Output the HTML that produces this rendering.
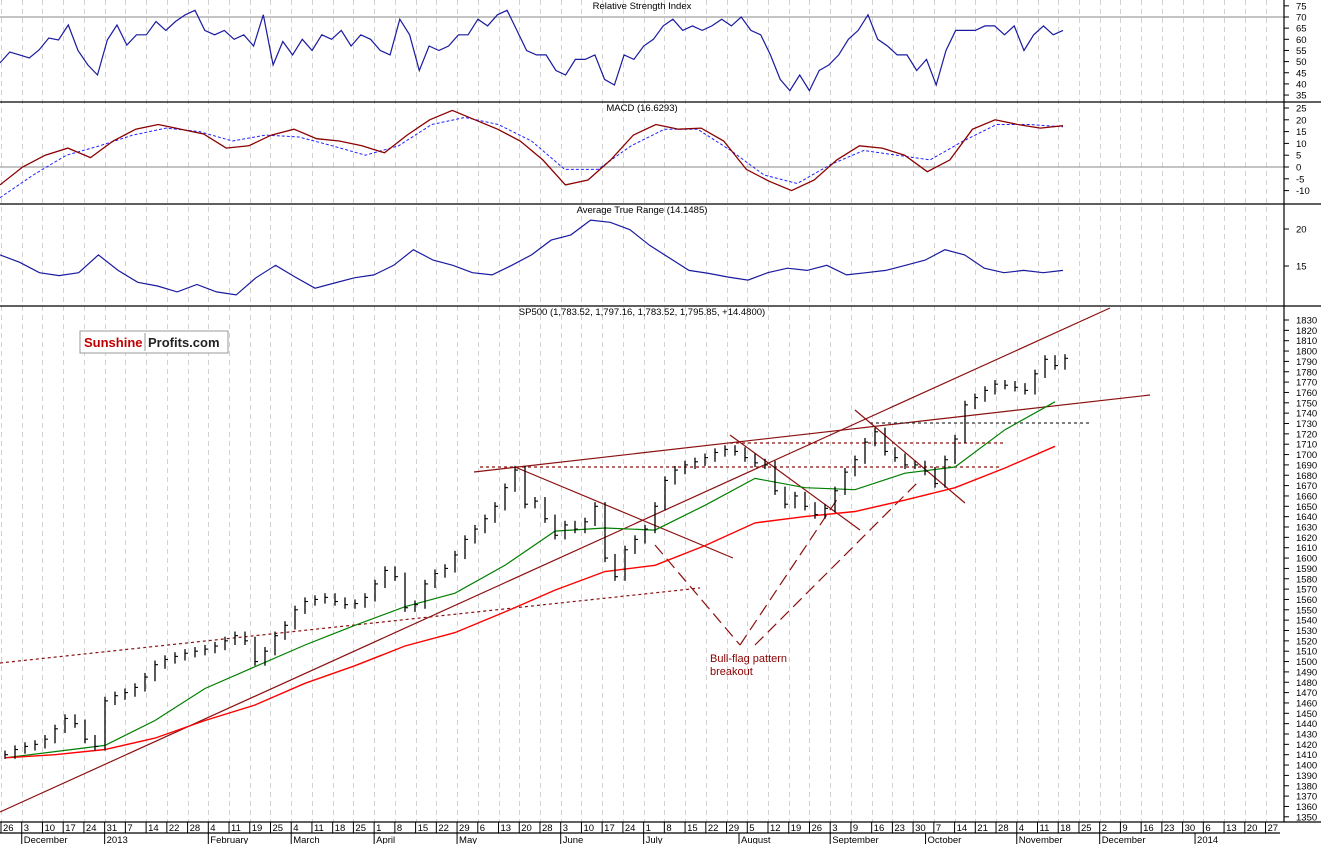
<!DOCTYPE html>
<html><head><meta charset="utf-8"><style>
html,body{margin:0;padding:0;background:#fff;}
svg{display:block;font-family:"Liberation Sans",Arial,sans-serif;}
</style></head><body>
<svg id="chart" width="1321" height="844" viewBox="0 0 1321 844">
<g id="grid"></g>
<g id="panels"></g>
<g id="series"></g>
<g id="axes"></g>
</svg>
<script>
const weekLabels=["26","3","10","17","24","31","7","14","22","28","4","11","19","25","4","11","18","25","1","8","15","22","29","6","13","20","28","3","10","17","24","1","8","15","22","29","5","12","19","26","3","9","16","23","30","7","14","21","28","4","11","18","25","2","9","16","23","30","6","13","20","27"];
const monthLabels=["December","2013","February","March","April","May","June","July","August","September","October","November","December","2014"];
const monthWeekIdx=[1,5,10,14,18,22,27,31,35.6,40,44.6,49,53,57.6];
const closes=[1410,1415,1418,1420,1425,1435,1445,1440,1425,1418,1462,1467,1470,1475,1485,1497,1502,1505,1508,1510,1512,1515,1520,1525,1520,1500,1510,1525,1535,1550,1558,1560,1562,1558,1555,1556,1562,1575,1588,1582,1552,1555,1575,1585,1590,1603,1618,1628,1638,1650,1668,1685,1652,1655,1638,1622,1632,1628,1635,1650,1600,1582,1608,1618,1628,1650,1675,1685,1690,1693,1697,1702,1705,1703,1697,1692,1690,1665,1652,1660,1650,1642,1648,1665,1683,1695,1712,1722,1703,1697,1690,1690,1684,1672,1695,1715,1748,1755,1762,1768,1767,1765,1762,1778,1792,1786,1793];
const ma50=[1407,1413,1419,1443,1474,1495,1516,1535,1553,1566,1593,1626,1629,1627,1651,1677,1668,1666,1682,1688,1724,1751];
const ma200=[1407,1410,1415,1426,1443,1458,1479,1496,1515,1528,1548,1569,1587,1593,1612,1634,1640,1645,1656,1668,1687,1708];
const rsi=[49.4,54.3,53,51.6,55.2,60.6,59.7,66.4,55,48.5,44,59.7,66.4,57.4,62,62,68,64,68,71,73,64,62,64,60,62,57,71,48.5,59,53,60,55,62,60,64,57,62,60,55,53,69,62,46,57,55,57,62,62,69,66,71,73,64,55,53,53,46,44,51,51,53,42,39.5,53,51,57,60,66,69,64,66,64,66,69,66,70,64,62,53,42,37,44,37,46,48.5,53,60,64,71,60,57,53,53,46,51,39.5,55,64,64,64,66,66,62,66,55,62,66,62,64];
const macd=[-7.6,0,5,8,4,11,16,18,16,14,8,9,13.5,16,12,11,9,6,13.5,20,24,20,16,11,3,-7.6,-5.5,3,13.5,18,16,16.5,11,-1,-6,-10,-5.5,3,9,8,5,-2,3,16,20,18,16.5,17.5];
const signal=[-13,-3.4,5,9,13.5,16.5,15,11,13.5,12.7,9,5,9,18,21,18,11,-1,-1,9,16,16,7,-3.4,-7,1,7,5,3,11,18,18,17];
const atr=[16.5,15.5,14.1,13.7,14.1,16.5,14.4,12.8,12.3,11.5,12.5,11.5,11.1,13.4,15.1,13.5,12,12.7,13.4,13.8,15.1,17.2,15.8,15.1,14.1,13.8,15.1,16.5,18.5,19.2,21.2,20.9,19.9,17.8,16.1,14.4,14,13.5,13.1,14.1,14.7,14.4,15.1,13.8,14.1,14.4,15.1,15.8,17.2,16.5,14.7,14.1,14.4,14.1,14.4];
const priceTicks=[];for(let p=1350;p<=1830;p+=10)priceTicks.push(p);
const rsiTicks=[35,40,45,50,55,60,65,70,75];
const macdTicks=[-10,-5,0,5,10,15,20,25];
const atrTicks=[15,20];

const NS="http://www.w3.org/2000/svg";
function mk(parent,tag,attrs,text){const e=document.createElementNS(NS,tag);for(const k in attrs)e.setAttribute(k,attrs[k]);if(text!==undefined)e.textContent=text;parent.appendChild(e);return e;}
const AX=1284, PLOT_R=1063;
const yPrice=p=>320+(1830-p)*1.035;
const yRsi=v=>17+(70-v)*2.23;
const yMacd=v=>167-v*2.36;
const yAtr=v=>229+(20-v)*7.4;
const xWeek=i=>1+i*20.73;
const xBar=i=>5+i*10;
const xMA=i=>5+i*50;
const xEven=(i,n)=>i*PLOT_R/(n-1);

const grid=document.getElementById('grid'),panels=document.getElementById('panels'),series=document.getElementById('series'),axes=document.getElementById('axes');
weekLabels.forEach((l,i)=>{const x=Math.round(xWeek(i))+0.5;
 const g=mk(grid,'line',{x1:x,y1:0,x2:x,y2:822,stroke:'#d2d2d2','stroke-dasharray':'5,4','stroke-width':1});
 
 
});
[102,204,306,822].forEach(y=>{const l=mk(panels,'line',{x1:0,y1:y,x2:1321,y2:y,stroke:'#000','stroke-width':1.2});
 
 
});
let hl=mk(panels,'line',{x1:0,y1:yRsi(70),x2:AX,y2:yRsi(70),stroke:'#888'});

hl=mk(panels,'line',{x1:0,y1:yMacd(0),x2:AX,y2:yMacd(0),stroke:'#888'});

[["Relative Strength Index",9,'rsi-title'],["MACD (16.6293)",111,'macd-title'],["Average True Range (14.1485)",213,'atr-title'],["SP500 (1,783.52, 1,797.16, 1,783.52, 1,795.85, +14.4800)",315,'price-title']].forEach(t=>{
 const e=mk(panels,'text',{x:642,y:t[1],'font-size':9.5,'text-anchor':'middle',fill:'#000'},t[0]);
 
});
function poly(arr,xf,yf,attrs,name){const pts=arr.map((v,i)=>xf(i,arr.length).toFixed(1)+','+yf(v).toFixed(1)).join(' ');
 const e=mk(series,'polyline',Object.assign({points:pts,fill:'none'},attrs));
 return e;}
poly(rsi,xEven,yRsi,{stroke:'#1a1aa0','stroke-width':1.2},'rsi-line');
poly(signal,xEven,yMacd,{stroke:'#2222ff','stroke-width':1,'stroke-dasharray':'3,2'},'macd-signal-line');
poly(macd,xEven,yMacd,{stroke:'#8b0000','stroke-width':1.3},'macd-line');
poly(atr,xEven,yAtr,{stroke:'#1a1aa0','stroke-width':1.2},'atr-line');
const DR='#8b1010';
function tl(x1,y1,x2,y2,st,name,dash){const e=mk(series,'line',{x1,y1,x2,y2,stroke:st,'stroke-width':1.2});if(dash)e.setAttribute('stroke-dasharray',dash);
 }
tl(0,812,1110,308,DR,'long-support-trendline');
tl(474,472,1150,395,DR,'resistance-trendline');
tl(0,663,700,588,DR,'dotted-support-line','3,3');
tl(480,467,1000,467,DR,'dotted-1688-line','3,3');
tl(730,443,1005,443,DR,'dotted-1710-line','3,3');
tl(870,423,1090,423,'#333','dotted-1730-line','3,3');
tl(515,467,733,558,DR,'flag-down-line-1');
tl(730,435,860,530,DR,'flag-down-line-2');
tl(855,410,965,503,DR,'flag-down-line-3');
tl(655,545,740,645,DR,'breakout-dash-1','12,6');
tl(740,645,840,495,DR,'breakout-dash-2','12,6');
tl(755,645,920,480,DR,'breakout-dash-3','12,6');
poly(ma50,xMA,yPrice,{stroke:'#008000','stroke-width':1.2},'ma50-line');
poly(ma200,xMA,yPrice,{stroke:'#ff0000','stroke-width':1.4},'ma200-line');
closes.forEach((c,i)=>{const x=xBar(i);const prev=i?closes[i-1]:c;const hi=Math.max(c,prev)+4,lo=Math.min(c,prev)-4;
 const b=mk(series,'line',{x1:x,y1:yPrice(hi),x2:x,y2:yPrice(lo),stroke:'#000','stroke-width':1.3});
 
 const t=mk(series,'line',{x1:x,y1:yPrice(c),x2:x+3,y2:yPrice(c),stroke:'#000','stroke-width':1.1});
 
});
let at=mk(series,'text',{x:710,y:662,'font-size':11,fill:'#8b0000'},'Bull-flag pattern');

at=mk(series,'text',{x:710,y:675,'font-size':11,fill:'#8b0000'},'breakout');

const lg=mk(series,'g',{});
mk(lg,'rect',{x:80,y:331,width:148,height:22,fill:'#fff',stroke:'#999'});
mk(lg,'line',{x1:145,y1:333,x2:145,y2:351,stroke:'#999'});
mk(lg,'text',{x:84,y:347,'font-size':13,'font-weight':'bold',fill:'#c00000'},'Sunshine');
mk(lg,'text',{x:148,y:347,'font-size':13,'font-weight':'bold',fill:'#222'},'Profits.com');
const ax=mk(axes,'line',{x1:AX,y1:0,x2:AX,y2:822,stroke:'#000','stroke-width':1.2});

function ticks(arr,yf,name){arr.forEach(v=>{const y=yf(v);
 mk(axes,'line',{x1:AX,y1:y,x2:AX+5,y2:y,stroke:'#000'});
 const t=mk(axes,'text',{x:AX+12,y:y+3.5,'font-size':9.5,fill:'#000'},String(v));
 });}
ticks(rsiTicks,yRsi,'rsi-tick-label');
ticks(macdTicks,yMacd,'macd-tick-label');
ticks(atrTicks,yAtr,'atr-tick-label');
ticks(priceTicks,yPrice,'price-tick-label');
const bx=mk(axes,'line',{x1:0,y1:833,x2:1280,y2:833,stroke:'#000','stroke-width':1.2});

weekLabels.forEach((l,i)=>{const x=xWeek(i);
 mk(axes,'line',{x1:x,y1:822,x2:x,y2:833,stroke:'#000'});
 const t=mk(axes,'text',{x:x+2,y:831,'font-size':9.5,fill:'#000'},l);
 
});
monthLabels.forEach((m,k)=>{const x=xWeek(monthWeekIdx[k]);
 mk(axes,'line',{x1:x,y1:833,x2:x,y2:844,stroke:'#000'});
 const t=mk(axes,'text',{x:x+2,y:843,'font-size':9.5,fill:'#000'},m);
 
});
</script>
</body></html>
